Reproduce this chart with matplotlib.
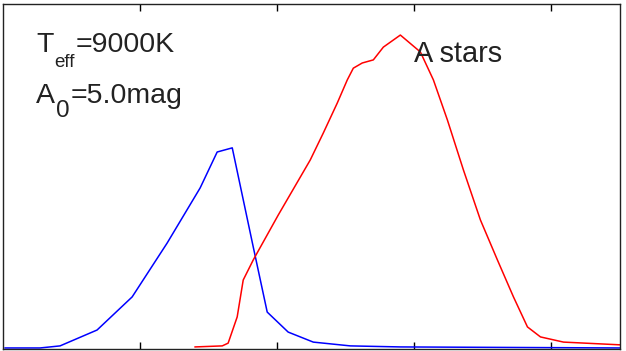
import matplotlib
matplotlib.use("Agg")
import matplotlib.pyplot as plt

plt.rcParams['font.family'] = ['Liberation Sans', 'DejaVu Sans']

# blue curve
blue_x = [0.015, 0.27, 0.416, 0.686, 0.942, 1.197, 1.438, 1.562, 1.672,
          1.825, 1.927, 2.080, 2.263, 2.533, 2.898, 4.50]
blue_y = [0.003, 0.003, 0.009, 0.055, 0.151, 0.307, 0.467, 0.571, 0.583,
          0.296, 0.107, 0.049, 0.020, 0.009, 0.006, 0.003]

# red curve (A stars)
red_x = [1.401, 1.599, 1.642, 1.708, 1.752, 1.825, 2.007, 2.241, 2.336,
         2.438, 2.511, 2.555, 2.620, 2.701, 2.774, 2.898, 3.044, 3.139,
         3.241, 3.358, 3.482, 3.606, 3.723, 3.825, 3.920, 4.088, 4.504]
red_y = [0.006, 0.009, 0.017, 0.093, 0.200, 0.258, 0.388, 0.548, 0.626,
         0.713, 0.780, 0.814, 0.829, 0.838, 0.875, 0.910, 0.861, 0.780,
         0.664, 0.519, 0.374, 0.258, 0.151, 0.064, 0.035, 0.020, 0.012]

xticks = [1, 2, 3, 4]

W, H = 626, 351
TXT = '#222222'

fig = plt.figure(figsize=(W / 100, H / 100), dpi=100)
ax = fig.add_axes([3 / W, 2 / H, 617 / W, 345 / H])

ax.plot(blue_x, blue_y, color='blue', lw=1.1)
ax.plot(red_x, red_y, color='red', lw=1.1)

ax.set_xlim(0, 4.5)
ax.set_ylim(0, 1)
ax.set_xticks(xticks)
ax.set_xticklabels([])
ax.set_yticks([])
ax.tick_params(axis='x', direction='in', top=True, bottom=True, length=5, width=1)
for s in ax.spines.values():
    s.set_linewidth(1.0)
    s.set_color('#222222')

renderer = fig.canvas.get_renderer()


# put a piece of text with its baseline at image pixel (x, y), return right edge
def put(x, y, s, size, family=None):
    kw = {}
    if family:
        kw['family'] = family
    t = fig.text(x / W, 1 - y / H, s, fontsize=size, color=TXT,
                 ha='left', va='baseline', **kw)
    return t.get_window_extent(renderer).x1


x = put(36, 52, 'T', 20.5)
x = put(x + 1, 67, 'eff', 13.5)
put(x + 1, 52, '=9000K', 20.5)

x = put(36, 103, 'A', 20.5)
x = put(x + 1, 117, '0', 17.5, ['Liberation Sans Narrow', 'Liberation Sans'])
put(x + 1, 103, '=5.0mag', 20.5)

put(414, 62, 'A stars', 20.8)

fig.savefig('out.png', dpi=100)
